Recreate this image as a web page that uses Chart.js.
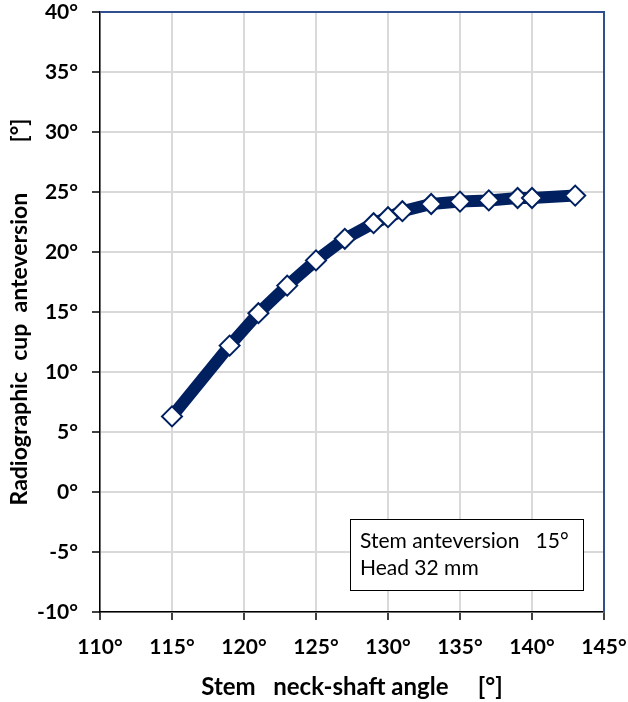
<!DOCTYPE html>
<html>
<head>
<meta charset="utf-8">
<script src="https://cdn.jsdelivr.net/npm/chart.js@4.4.1/dist/chart.umd.min.js"></script>
<style>
  html, body { margin: 0; padding: 0; background: #fff; }
  #wrap { width: 628px; height: 702px; }
</style>
</head>
<body>
<div id="wrap"><canvas id="angle-chart"></canvas></div>
<script>
// neck-shaft angle (deg) and radiographic cup anteversion (deg)
const neckShaftAngle = [115, 119, 121, 123, 125, 127, 129, 130, 131, 133, 135, 137, 139, 140, 143];
const cupAnteversion = [6.3, 12.2, 14.9, 17.2, 19.3, 21.1, 22.4, 22.9, 23.4, 24.0, 24.2, 24.3, 24.5, 24.5, 24.7];
const noteLines = ["Stem anteversion   15°", "Head 32 mm"];

const navy = "#002060";
const fontName = "Lato, 'Open Sans', sans-serif";

const noteBox = {
    id: "noteBox",
    afterDraw(chart) {
        const ctx = chart.ctx;
        const area = chart.chartArea;
        ctx.save();
        // blue plot border on top and right
        ctx.strokeStyle = "#2f4f8f";
        ctx.lineWidth = 2;
        ctx.beginPath();
        ctx.moveTo(area.left, area.top);
        ctx.lineTo(area.right, area.top);
        ctx.lineTo(area.right, area.bottom);
        ctx.stroke();

        // text box
        ctx.fillStyle = "#fff";
        ctx.fillRect(350, 519, 233, 71);
        ctx.strokeStyle = "#000";
        ctx.lineWidth = 1;
        ctx.strokeRect(350.5, 519.5, 233, 71);
        ctx.fillStyle = "#000";
        ctx.font = "21px " + fontName;
        ctx.textBaseline = "middle";
        ctx.fillText(noteLines[0], 360, 541);
        ctx.fillText(noteLines[1], 360, 568);
        ctx.restore();
    }
};

const chartEl = document.getElementById("angle-chart");

const angleChart = new Chart(chartEl, {
    type: "line",
    data: {
        datasets: [
            {
                data: neckShaftAngle.map((a, i) => ({ x: a, y: cupAnteversion[i] })),
                borderColor: navy,
                borderWidth: 12,
                tension: 0,
                pointStyle: "rectRot",
                pointRadius: 10,
                pointBorderWidth: 2,
                pointBackgroundColor: "#fff",
                pointBorderColor: navy,
            },
        ],
    },
    options: {
        responsive: true,
        maintainAspectRatio: false,
        animation: false,
        layout: {
            padding: { top: 12, right: 24, left: 0, bottom: 0 },
        },
        plugins: {
            legend: { display: false },
            tooltip: { enabled: false },
        },
        scales: {
            x: {
                type: "linear",
                min: 110,
                max: 145,
                afterFit: (s) => {
                    s.height = 90;
                    s.paddingLeft = 0;
                    s.paddingRight = 0;
                },
                ticks: {
                    stepSize: 5,
                    padding: 15,
                    color: "#000",
                    font: { family: fontName, size: 21, weight: "bold" },
                    callback: (v) => v + "°",
                },
                grid: {
                    color: "#d9d9d9",
                    lineWidth: 2,
                    tickColor: "#000",
                    tickLength: 8,
                    tickWidth: 1.5,
                },
                border: { color: "#000", width: 1.5 },
                title: {
                    display: true,
                    text: "Stem   neck-shaft angle     [°]",
                    color: "#000",
                    font: { family: fontName, size: 24, weight: "bold" },
                    padding: { top: 17, bottom: 0 },
                },
            },
            y: {
                min: -10,
                max: 40,
                afterFit: (s) => {
                    s.width = 100;
                    s.paddingTop = 0;
                    s.paddingBottom = 0;
                },
                ticks: {
                    stepSize: 5,
                    padding: 14,
                    color: "#000",
                    font: { family: fontName, size: 21, weight: "bold" },
                    callback: (v) => v + "°",
                },
                grid: {
                    color: "#d9d9d9",
                    lineWidth: 2,
                    tickColor: "#000",
                    tickLength: 8,
                    tickWidth: 1.5,
                },
                border: { color: "#000", width: 1.5 },
                title: {
                    display: true,
                    text: "Radiographic  cup  anteversion         [°]",
                    color: "#000",
                    font: { family: fontName, size: 23, weight: "bold" },
                    padding: { top: 6, bottom: 0 },
                },
            },
        },
    },
    plugins: [noteBox],
});
</script>
</body>
</html>
